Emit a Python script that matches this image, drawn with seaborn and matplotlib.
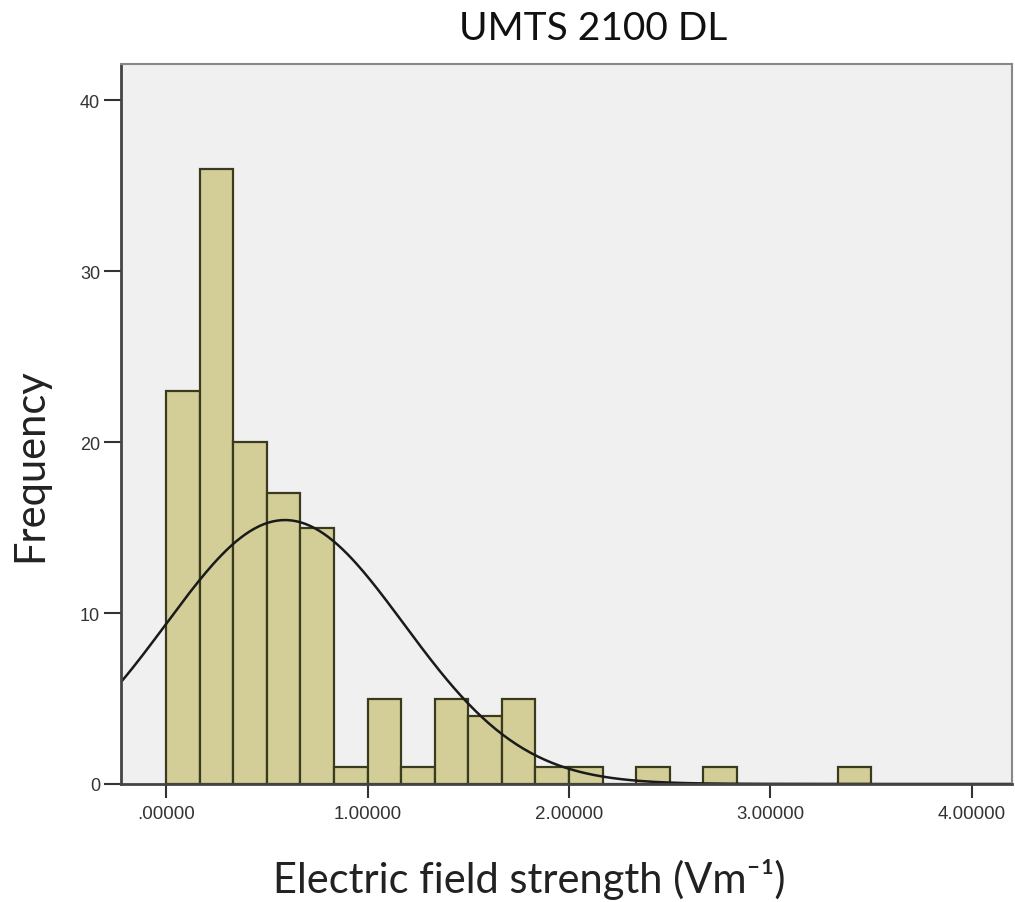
import numpy as np
import pandas as pd
import matplotlib
matplotlib.use("Agg")
import matplotlib.pyplot as plt
import seaborn as sns

# ---- data ----
bin_width = 1.0 / 6.0
bin_edges = [i * bin_width for i in range(22)]
counts = [23, 36, 20, 17, 15, 1, 5, 1, 5, 4, 5, 1, 1, 0, 1, 0, 1, 0, 0, 0, 1]
fit_mean = 0.59
fit_sd = 0.59
x_ticks = [0, 1, 2, 3, 4]
x_tick_labels = [".00000", "1.00000", "2.00000", "3.00000", "4.00000"]
y_ticks = [0, 10, 20, 30, 40]
title = "UMTS 2100 DL"
x_label = "Electric field strength (Vm\u207B\u00B9)"
y_label = "Frequency"

sns.set_style("white")
plt.rcParams['font.family'] = ['Lato', 'DejaVu Sans']

fig = plt.figure(figsize=(10.15, 9.03), dpi=100)
ax = fig.add_axes([0.1192, 0.1307, 0.878, 0.797])
ax.set_facecolor("#F0F0F0")

centers = [(bin_edges[i] + bin_edges[i + 1]) / 2 for i in range(len(counts))]
df = pd.DataFrame({"x": centers, "w": counts})
sns.histplot(data=df, x="x", weights="w", bins=bin_edges, ax=ax,
             color="#D3CE97", edgecolor="#3A3A1E", linewidth=1.6, alpha=1.0)

n_total = sum(counts)
xs = np.linspace(-0.3, 4.3, 400)
ys = n_total * bin_width / (fit_sd * np.sqrt(2 * np.pi)) * np.exp(-0.5 * ((xs - fit_mean) / fit_sd) ** 2)
sns.lineplot(x=xs, y=ys, ax=ax, color="#1A1A1A", linewidth=1.8)

ax.set_xlim(-0.224, 4.20)
ax.set_ylim(0, 42.1)
ax.set_xticks(x_ticks)
ax.set_xticklabels(x_tick_labels, family=['Liberation Sans'], fontsize=13.5, color="#333333")
ax.set_yticks(y_ticks)
ax.set_yticklabels([str(v) for v in y_ticks], family=['Liberation Sans'], fontsize=13, color="#333333")
ax.tick_params(axis='x', direction='out', length=10, width=1.5, color="#333333", pad=5, bottom=True)
ax.tick_params(axis='y', direction='out', length=12, width=1.5, color="#333333", pad=3, left=True)

for side in ["left", "bottom"]:
    ax.spines[side].set_color("#444444")
    ax.spines[side].set_linewidth(2.0)
for side in ["top", "right"]:
    ax.spines[side].set_visible(True)
    ax.spines[side].set_color("#888888")
    ax.spines[side].set_linewidth(1.5)

ax.set_xlabel("")
ax.set_ylabel("")
fig.text(593 / 1015, 1 - 29 / 903, title, fontsize=28, color="#111111", ha="center", va="center")
fig.text(529 / 1015, 1 - 880 / 903, x_label, fontsize=30, color="#222222", ha="center", va="center")
fig.text(30 / 1015, 1 - 465 / 903, y_label, fontsize=30, color="#222222", ha="center", va="center", rotation=90)

fig.savefig("out.png", dpi=100)
